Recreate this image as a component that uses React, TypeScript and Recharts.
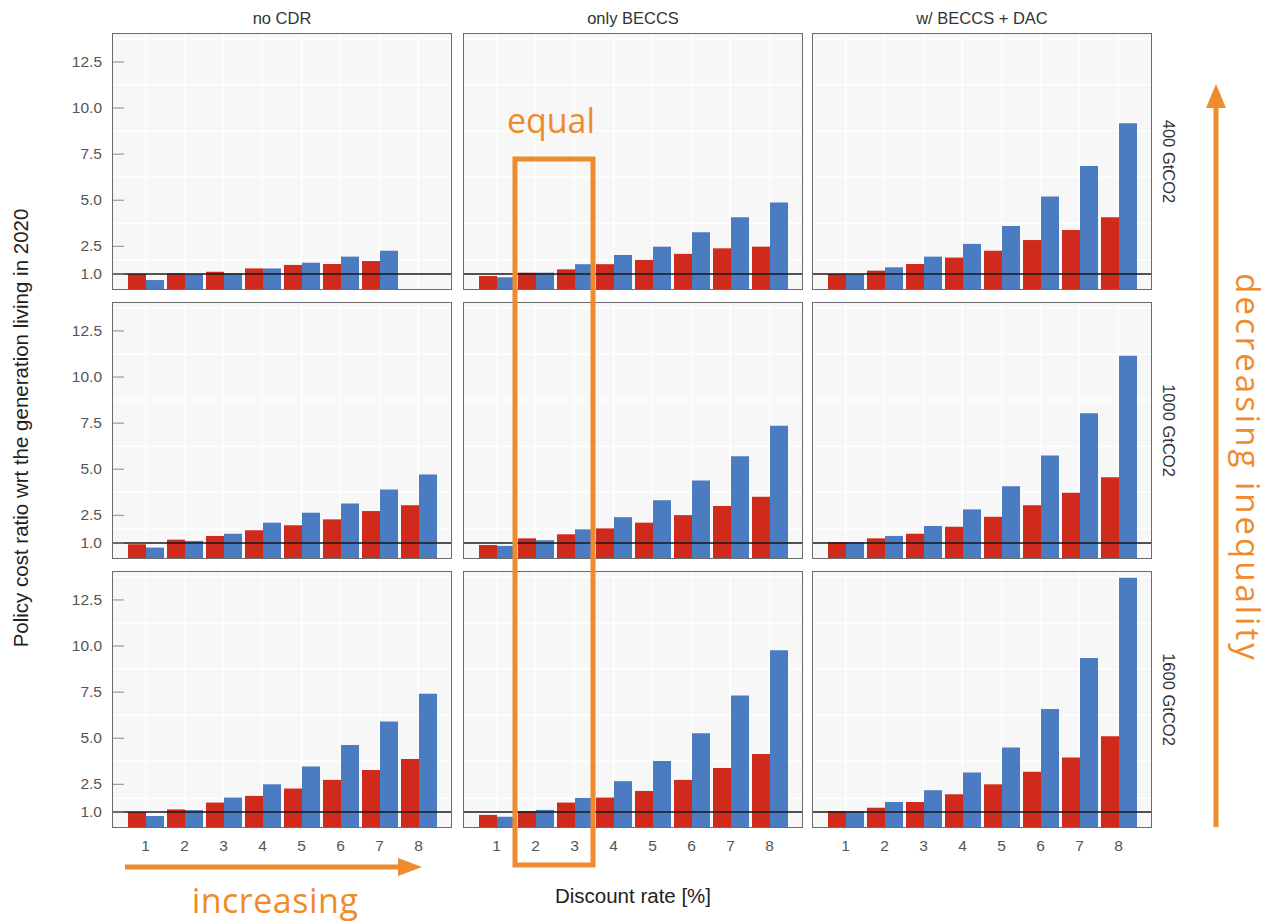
import { BarChart, Bar, XAxis, YAxis, CartesianGrid, ReferenceLine } from 'recharts';

const rates = ['1', '2', '3', '4', '5', '6', '7', '8'];
const scenarios = ['no CDR', 'only BECCS', 'w/ BECCS + DAC'];
const budgets = ['400 GtCO2', '1000 GtCO2', '1600 GtCO2'];
const yTicks = [1, 2.5, 5, 7.5, 10, 12.5];
const yMinor = [1.75, 3.75, 6.25, 8.75, 11.25, 13.75];

// 400 GtCO2
const red400NoCdr = [1.0, 1.03, 1.12, 1.3, 1.49, 1.54, 1.7, null];
const blue400NoCdr = [0.67, 1.0, 1.03, 1.3, 1.61, 1.94, 2.26, null];
const red400Beccs = [0.89, 1.07, 1.25, 1.53, 1.76, 2.09, 2.39, 2.48];
const blue400Beccs = [0.82, 1.07, 1.53, 2.03, 2.48, 3.26, 4.07, 4.87];
const red400Dac = [1.0, 1.18, 1.54, 1.89, 2.26, 2.84, 3.39, 4.08];
const blue400Dac = [1.0, 1.36, 1.94, 2.63, 3.6, 5.2, 6.86, 9.18];

// 1000 GtCO2
const red1000NoCdr = [0.93, 1.18, 1.38, 1.69, 1.96, 2.28, 2.73, 3.05];
const blue1000NoCdr = [0.75, 1.11, 1.5, 2.1, 2.64, 3.14, 3.9, 4.71];
const red1000Beccs = [0.89, 1.25, 1.47, 1.79, 2.1, 2.51, 3.0, 3.5];
const blue1000Beccs = [0.84, 1.15, 1.74, 2.4, 3.31, 4.39, 5.7, 7.36];
const red1000Dac = [1.05, 1.25, 1.5, 1.88, 2.42, 3.04, 3.72, 4.56];
const blue1000Dac = [1.05, 1.38, 1.92, 2.82, 4.08, 5.74, 8.04, 11.15];

// 1600 GtCO2
const red1600NoCdr = [1.0, 1.14, 1.51, 1.87, 2.27, 2.74, 3.27, 3.87];
const blue1600NoCdr = [0.78, 1.1, 1.78, 2.5, 3.47, 4.63, 5.9, 7.41];
const red1600Beccs = [0.84, 1.05, 1.51, 1.78, 2.14, 2.74, 3.38, 4.14];
const blue1600Beccs = [0.74, 1.11, 1.76, 2.67, 3.76, 5.27, 7.32, 9.77];
const red1600Dac = [1.05, 1.23, 1.54, 1.96, 2.5, 3.18, 3.96, 5.1];
const blue1600Dac = [1.05, 1.54, 2.18, 3.14, 4.5, 6.59, 9.35, 13.71];

const redRows = [
  [red400NoCdr, red400Beccs, red400Dac],
  [red1000NoCdr, red1000Beccs, red1000Dac],
  [red1600NoCdr, red1600Beccs, red1600Dac],
];
const blueRows = [
  [blue400NoCdr, blue400Beccs, blue400Dac],
  [blue1000NoCdr, blue1000Beccs, blue1000Dac],
  [blue1600NoCdr, blue1600Beccs, blue1600Dac],
];

const RED = '#cf2a1b';
const BLUE = '#4b7bc1';
const ORANGE = '#ee8b2c';
const FONT = '"Liberation Sans", Arial, sans-serif';
const ANNOT_FONT = '"Open Sans", sans-serif';

const colLeft = [112, 463, 812];
const rowTop = [33, 302, 571];
const PANEL_W = 340;
const PANEL_H = 257;
const Y_AXIS_W = 60;
const X_AXIS_H = 40;

// y labels sit left of the frame, tick marks point into the panel
const YTick = (props: any) => {
  const { x, y, payload } = props;
  return (
    <g>
      <line x1={x + 10} x2={x + 22} y1={y} y2={y} stroke="#8a8a8a" />
      <text x={x} y={y} dy={5} textAnchor="end" fontSize={15.5} fill="#555" fontFamily={FONT}>
        {Number(payload.value).toFixed(1)}
      </text>
    </g>
  );
};

function Panel({ row, col }: { row: number; col: number }) {
  const red = redRows[row][col];
  const blue = blueRows[row][col];
  const data = rates.map((r, i) => ({ rate: r, red: red[i], blue: blue[i] }));
  const showY = col === 0;
  const showX = row === 2;
  const width = PANEL_W + (showY ? Y_AXIS_W : 0);
  const height = PANEL_H + (showX ? X_AXIS_H : 0);
  return (
    <div
      style={{
        position: 'absolute',
        left: colLeft[col] - (showY ? Y_AXIS_W : 0),
        top: rowTop[row],
      }}
    >
      <BarChart
        width={width}
        height={height}
        data={data}
        margin={{ top: 0, right: 0, bottom: 0, left: 0 }}
        barCategoryGap={2}
        barGap={0}
      >
        <CartesianGrid
          fill="#f7f7f7"
          stroke="#ffffff"
          strokeWidth={1.5}
          horizontalValues={[...yTicks, ...yMinor]}
        />
        <XAxis
          dataKey="rate"
          hide={!showX}
          height={X_AXIS_H}
          padding={{ left: 14, right: 14 }}
          axisLine={false}
          tickLine={false}
          tickSize={0}
          tickMargin={12}
          tick={{ fontSize: 15.5, fill: '#555', fontFamily: FONT }}
        />
        <YAxis
          type="number"
          hide={!showY}
          width={Y_AXIS_W}
          domain={[0.13, 14.07]}
          allowDataOverflow
          ticks={yTicks}
          axisLine={false}
          tickLine={false}
          tickSize={0}
          tickMargin={10}
          tick={<YTick />}
        />
        <Bar dataKey="red" fill={RED} isAnimationActive={false} />
        <Bar dataKey="blue" fill={BLUE} isAnimationActive={false} />
        <ReferenceLine y={1} stroke="#1a1a1a" strokeWidth={1.5} />
      </BarChart>
    </div>
  );
}

export default function App() {
  const panels = [];
  for (let r = 0; r < 3; r++) {
    for (let c = 0; c < 3; c++) {
      panels.push(<Panel key={`${r}-${c}`} row={r} col={c} />);
    }
  }
  return (
    <div
      style={{
        position: 'absolute',
        left: 0,
        top: 0,
        width: 1275,
        height: 922,
        background: '#ffffff',
        fontFamily: FONT,
      }}
    >
      {panels}
      <svg
        width={1275}
        height={922}
        style={{ position: 'absolute', left: 0, top: 0, pointerEvents: 'none' }}
      >
        {/* panel frames */}
        {rowTop.map((t) =>
          colLeft.map((l) => (
            <rect
              key={`${t}-${l}`}
              x={l + 0.5}
              y={t + 0.5}
              width={PANEL_W - 1}
              height={PANEL_H - 1}
              fill="none"
              stroke="#6b6b6b"
            />
          ))
        )}
        {/* facet strips */}
        {scenarios.map((s, i) => (
          <text key={s} x={colLeft[i] + PANEL_W / 2} y={24} textAnchor="middle" fontSize={16.5} fill="#333">
            {s}
          </text>
        ))}
        {budgets.map((b, i) => {
          const cy = rowTop[i] + PANEL_H / 2;
          return (
            <text
              key={b}
              x={1169}
              y={cy}
              transform={`rotate(90, 1169, ${cy})`}
              textAnchor="middle"
              dominantBaseline="central"
              fontSize={16.5}
              fill="#333"
            >
              {b}
            </text>
          );
        })}
        {/* axis titles */}
        <text
          x={20}
          y={428}
          transform="rotate(-90, 20, 428)"
          textAnchor="middle"
          dominantBaseline="central"
          fontSize={20.5}
          fill="#222"
        >
          Policy cost ratio wrt the generation living in 2020
        </text>
        <text x={633} y={903} textAnchor="middle" fontSize={20.5} fill="#222">
          Discount rate [%]
        </text>

        {/* annotations */}
        <rect x={515} y={159} width={78} height={706} fill="none" stroke={ORANGE} strokeWidth={5} />
        <text x={551} y={133} textAnchor="middle" fontSize={34} fill={ORANGE} fontFamily={ANNOT_FONT}>
          equal
        </text>

        <line x1={125} y1={867} x2={402} y2={867} stroke={ORANGE} strokeWidth={5} />
        <polygon points="398,858 422,867 398,876" fill={ORANGE} />
        <text
          x={275}
          y={913}
          textAnchor="middle"
          fontSize={34}
          letterSpacing={0.5}
          fill={ORANGE}
          fontFamily={ANNOT_FONT}
        >
          increasing
        </text>

        <line x1={1216} y1={827} x2={1216} y2={104} stroke={ORANGE} strokeWidth={5} />
        <polygon points="1206,108 1216,84 1226,108" fill={ORANGE} />
        <text
          x={1236}
          y={468}
          transform="rotate(90, 1236, 468)"
          textAnchor="middle"
          fontSize={33}
          letterSpacing={3}
          fill={ORANGE}
          fontFamily={ANNOT_FONT}
        >
          decreasing inequality
        </text>
      </svg>
    </div>
  );
}
